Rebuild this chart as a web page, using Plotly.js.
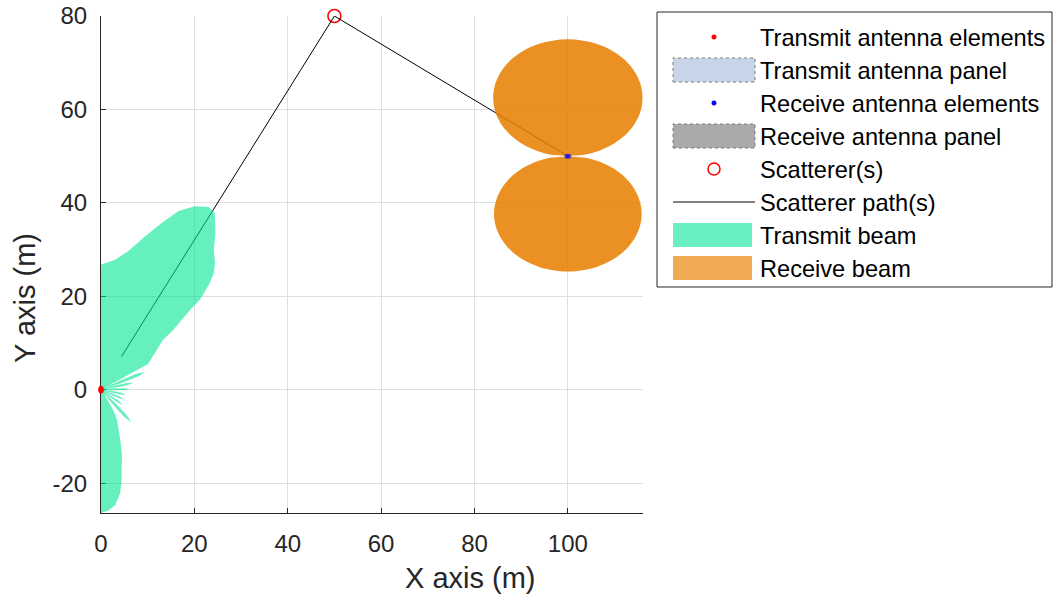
<!DOCTYPE html>
<html>
<head>
<meta charset="utf-8">
<script src="https://cdn.plot.ly/plotly-3.0.1.min.js"></script>
<style>
  html, body { margin: 0; padding: 0; background: #ffffff; }
  #chart { width: 1054px; height: 598px; }
</style>
</head>
<body>
<div id="chart"></div>
<script>
// ---- data ----
const txElemX = [0, 0, 0, 0];
const txElemY = [-0.3, -0.1, 0.1, 0.3];
const txPanelX = [-0.3, 0.3, 0.3, -0.3, -0.3];
const txPanelY = [-0.5, -0.5, 0.5, 0.5, -0.5];
const rxElemX = [99.7, 99.9, 100.1, 100.3];
const rxElemY = [50, 50, 50, 50];
const rxPanelX = [99.5, 100.5, 100.5, 99.5, 99.5];
const rxPanelY = [49.85, 49.85, 50.15, 50.15, 49.85];
const scattererX = [50];
const scattererY = [80];
const pathX = [4.4, 50, 100];
const pathY = [7.1, 80, 50];

// transmit beam outline (polar about the transmitter): angle (deg), radius (m)
const txBeamCenter = [0, 0];
const txBeamAngle = [
  -95, -90, -86.5, -83, -79.5, -77.5, -75.5, -72, -69, -65.5, -62, -59, -56.5, -54,
  -51, -49.5, -47, -44.5, -43, -41,
  -39, -37.5, -35, -32.5, -31, -29,
  -27, -25.5, -23, -20.5, -19, -17,
  -15, -13.5, -11, -8.5, -7, -5,
  -3, -1.5, 1, 3.5, 5, 6.5,
  8, 9.5, 12, 14.5, 16, 17.2,
  18.4, 19.6, 22, 24.2, 25.5, 26.7,
  28, 28.5, 31, 33.4, 36, 38.8, 39.5, 41.8, 42.3, 44.4, 46, 48, 51.1, 53.9, 57.2, 59.5,
  62.9, 66.5, 70, 74, 78.9, 83.8, 89.8, 95];
const txBeamRadius = [
  26.4, 26.4, 25.9, 24.9, 22.5, 20.3, 17.7, 14.5, 11.5, 9, 7.3, 5, 2.5, 1.0,
  4.3, 7.7, 9.6, 7.7, 4.3, 1.0,
  2.6, 4.6, 5.7, 4.6, 2.6, 1.0,
  2.5, 4.4, 5.5, 4.4, 2.5, 1.0,
  2.5, 4.4, 5.5, 4.4, 2.5, 1.0,
  2.8, 4.9, 6.1, 4.9, 2.8, 1.0,
  3.2, 5.7, 7.2, 5.7, 3.2, 1.0,
  4.6, 8.3, 10.3, 8.3, 4.6, 1.0,
  2, 11.5, 12.5, 13.5, 15, 17, 20, 25.6, 28.7, 32.6, 34.8, 36.5, 38.5, 41.6, 45, 45.4,
  44.1, 41.7, 38, 34.1, 30.2, 28, 26.8, 26.8];

// receive beam outline (polar about the receiver)
const rxBeamCenter = [100, 50];
const rxBeamAngle = [0, 5, 10, 15, 20, 25, 30, 35, 40, 45, 50, 55, 60, 65, 70, 75, 80, 85, 90,
  95, 100, 105, 110, 115, 120, 125, 130, 135, 140, 145, 150, 155, 160, 165, 170, 175, 180,
  185, 190, 195, 200, 205, 210, 215, 220, 225, 230, 235, 240, 245, 250, 255, 260, 265, 270,
  275, 280, 285, 290, 295, 300, 305, 310, 315, 320, 325, 330, 335, 340, 345, 350, 355, 360];
const rxBeamRadius = [0, 3.55, 6.98, 10.16, 13.03, 15.54, 17.66, 19.41, 20.83, 21.96, 22.83, 23.49, 23.99, 24.35, 24.62, 24.8, 24.91, 24.98, 25,
  24.98, 24.91, 24.8, 24.62, 24.35, 23.99, 23.49, 22.83, 21.96, 20.83, 19.41, 17.66, 15.54, 13.03, 10.16, 6.98, 3.55, 0,
  3.5, 6.9, 10.05, 12.9, 15.35, 17.45, 19.2, 20.6, 21.7, 22.55, 23.2, 23.7, 24.05, 24.3, 24.5, 24.6, 24.68, 24.7,
  24.68, 24.6, 24.5, 24.3, 24.05, 23.7, 23.2, 22.55, 21.7, 20.6, 19.2, 17.45, 15.35, 12.9, 10.05, 6.9, 3.5, 0];

// axis ticks
const xTickVals = [0, 20, 40, 60, 80, 100];
const xTickText = ['0', '20', '40', '60', '80', '100'];
const yTickVals = [-20, 0, 20, 40, 60, 80];
const yTickText = ['-20', '0', '20', '40', '60', '80'];

// legend entries
const legendNames = ['Transmit antenna elements', 'Transmit antenna panel', 'Receive antenna elements',
  'Receive antenna panel', 'Scatterer(s)', 'Scatterer path(s)', 'Transmit beam', 'Receive beam'];

// ---- colours ----
const txBeamFill = 'rgba(0,230,147,0.6)';
const rxBeamFill = 'rgba(232,127,0,0.86)';

function polarToXY(center, ang, rad) {
  const x = [], y = [];
  for (let i = 0; i < ang.length; i++) {
    const t = ang[i] * Math.PI / 180;
    x.push(center[0] + rad[i] * Math.cos(t));
    y.push(center[1] + rad[i] * Math.sin(t));
  }
  return {x, y};
}
const txB = polarToXY(txBeamCenter, txBeamAngle, txBeamRadius);
const rxB = polarToXY(rxBeamCenter, rxBeamAngle, rxBeamRadius);

const traces = [
  {x: txPanelX, y: txPanelY, name: legendNames[1], type: 'scatter', mode: 'lines',
   fill: 'toself', fillcolor: 'rgb(200,212,232)', line: {color: '#808080', width: 1, dash: 'dot'}},
  {x: rxPanelX, y: rxPanelY, name: legendNames[3], type: 'scatter', mode: 'lines',
   fill: 'toself', fillcolor: 'rgb(170,170,170)', line: {color: '#808080', width: 1, dash: 'dot'}},
  {x: scattererX, y: scattererY, name: legendNames[4], type: 'scatter', mode: 'markers',
   cliponaxis: false, marker: {symbol: 'circle-open', size: 13, color: '#ff0000', line: {width: 1.5}}},
  {x: pathX, y: pathY, name: legendNames[5], type: 'scatter', mode: 'lines',
   line: {color: '#000000', width: 1}},
  {x: txB.x, y: txB.y, name: legendNames[6], type: 'scatter', mode: 'lines',
   fill: 'toself', fillcolor: txBeamFill, line: {width: 0, color: 'rgba(0,0,0,0)'}},
  {x: rxB.x, y: rxB.y, name: legendNames[7], type: 'scatter', mode: 'lines',
   fill: 'toself', fillcolor: rxBeamFill, line: {width: 0, color: 'rgba(0,0,0,0)', shape: 'spline', smoothing: 0.8}},
  {x: txElemX, y: txElemY, name: legendNames[0], type: 'scatter', mode: 'markers',
   cliponaxis: false, marker: {size: 5, color: '#ff0000'}},
  {x: rxElemX, y: rxElemY, name: legendNames[2], type: 'scatter', mode: 'markers',
   marker: {size: 5, color: '#0000ff', opacity: 0.35}}
];

// ---- layout geometry (pixels) ----
const W = 1054, H = 598;
const plotL = 101, plotR = 643, plotT = 16, plotB = 513;
const pw = plotR - plotL, ph = plotB - plotT;
const px = v => (v - plotL) / pw;
const py = v => (plotB - v) / ph;

const fontFam = 'Liberation Sans, Arial, Helvetica, sans-serif';

// hand-drawn legend (box, swatches, text)
const legBox = {x0: 657, x1: 1052, y0: 12, y1: 287};
const rowY = [38, 71, 104, 137, 170, 203, 236, 269];
const swX0 = 673, swX1 = 755, swH = 24, textX = 759;

const shapes = [];
const annotations = [];
shapes.push({type: 'rect', xref: 'paper', yref: 'paper', x0: px(legBox.x0), x1: px(legBox.x1),
  y0: py(legBox.y1), y1: py(legBox.y0), line: {color: '#262626', width: 1}, fillcolor: '#ffffff'});
function rectSwatch(row, fill, dotted) {
  const cy = rowY[row] - 1;
  shapes.push({type: 'rect', xref: 'paper', yref: 'paper', x0: px(swX0), x1: px(dotted ? swX1 : swX1 - 3),
    y0: py(cy + swH / 2), y1: py(cy - swH / 2), fillcolor: fill,
    line: dotted ? {color: '#7a7a7a', width: 1, dash: 'dot'} : {width: 0}});
}
function dotSwatch(row, r, fill, lineColor, lw) {
  const cx = 714, cy = rowY[row] - 1;
  shapes.push({type: 'circle', xref: 'paper', yref: 'paper', x0: px(cx - r), x1: px(cx + r),
    y0: py(cy + r), y1: py(cy - r), fillcolor: fill, line: {color: lineColor, width: lw}});
}
dotSwatch(0, 2.3, '#ff0000', '#ff0000', 0.5);
rectSwatch(1, 'rgb(200,212,232)', true);
dotSwatch(2, 2.3, '#0000ff', '#0000ff', 0.5);
rectSwatch(3, 'rgb(170,170,170)', true);
dotSwatch(4, 6, 'rgba(0,0,0,0)', '#ff0000', 1.5);
shapes.push({type: 'line', xref: 'paper', yref: 'paper', x0: px(swX0), x1: px(swX1),
  y0: py(rowY[5] - 1), y1: py(rowY[5] - 1), line: {color: '#000000', width: 1}});
rectSwatch(6, 'rgb(106,240,192)', false);
rectSwatch(7, 'rgb(240,170,84)', false);

for (let i = 0; i < legendNames.length; i++) {
  annotations.push({text: legendNames[i], xref: 'paper', yref: 'paper', x: px(textX), y: py(rowY[i]),
    xanchor: 'left', yanchor: 'middle', showarrow: false, borderpad: 0,
    font: {family: fontFam, size: 23.6, color: '#000000'}});
}

// axis titles
annotations.push({text: 'X axis (m)', xref: 'paper', yref: 'paper', x: px(470), y: py(578),
  xanchor: 'center', yanchor: 'middle', showarrow: false,
  font: {family: fontFam, size: 29, color: '#262626'}});
annotations.push({text: 'Y axis (m)', xref: 'paper', yref: 'paper', x: px(25), y: py(298),
  xanchor: 'center', yanchor: 'middle', textangle: -90, showarrow: false,
  font: {family: fontFam, size: 29, color: '#262626'}});

const axisFont = {family: fontFam, size: 24, color: '#262626'};
const layout = {
  width: W, height: H,
  margin: {l: plotL, r: W - plotR, t: plotT, b: H - plotB, pad: 0},
  paper_bgcolor: '#ffffff', plot_bgcolor: '#ffffff',
  showlegend: false,
  xaxis: {
    range: [0, 116.1], tickmode: 'array', tickvals: xTickVals, ticktext: xTickText,
    showgrid: true, gridcolor: '#dfdfdf', gridwidth: 1, layer: 'below traces',
    zeroline: false, showline: true, linecolor: '#262626', linewidth: 1,
    ticks: 'inside', ticklen: 5, tickcolor: '#262626', tickfont: axisFont, ticklabelstandoff: 9,
    fixedrange: true
  },
  yaxis: {
    range: [-26.4, 80], tickmode: 'array', tickvals: yTickVals, ticktext: yTickText,
    showgrid: true, gridcolor: '#dfdfdf', gridwidth: 1, layer: 'below traces',
    zeroline: false, showline: true, linecolor: '#262626', linewidth: 1,
    ticks: 'inside', ticklen: 5, tickcolor: '#262626', tickfont: axisFont, ticklabelstandoff: 8,
    fixedrange: true
  },
  shapes: shapes,
  annotations: annotations
};

Plotly.newPlot('chart', traces, layout, {staticPlot: true, displayModeBar: false});
</script>
</body>
</html>
